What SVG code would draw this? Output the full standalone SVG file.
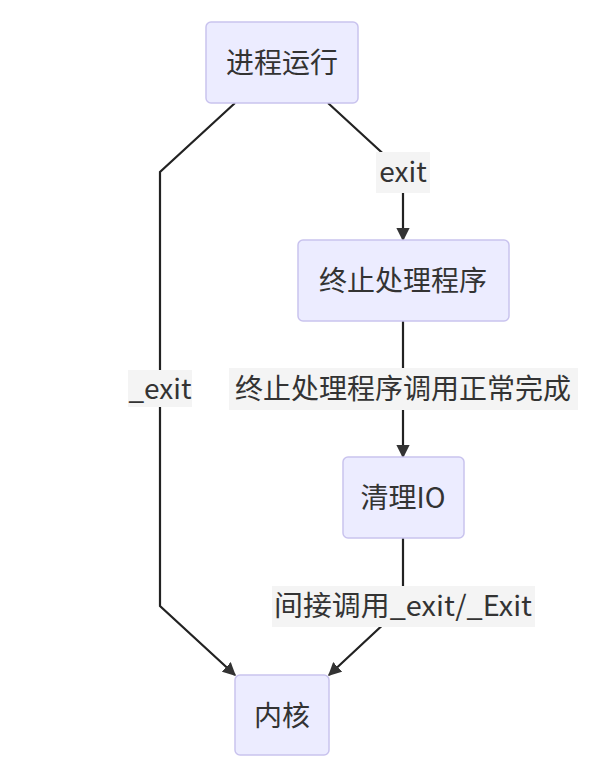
<svg xmlns="http://www.w3.org/2000/svg" width="601" height="778" viewBox="0 0 601 778">
<style>
.n rect{fill:#ECECFF;stroke:#C9C3EE;stroke-width:1.5}
text{font-family:"Noto Sans CJK SC","Noto Sans",sans-serif;font-size:28px;fill:#333;text-anchor:middle;dominant-baseline:central}
.e path{fill:none;stroke:#222;stroke-width:2.2}
.lb{fill:#F4F4F4}
</style>
<defs><marker id="a" viewBox="0 0 10 10" refX="9" refY="5" markerWidth="6" markerHeight="6" orient="auto"><path d="M0,0L10,5L0,10z" fill="#333"/></marker></defs>
<rect width="601" height="778" fill="#fff"/>
<g class="e">
<path d="M235,103L160,172V606L235,675" marker-end="url(#a)"/>
<path d="M328,103L403,172V240" marker-end="url(#a)"/>
<path d="M403,321V457" marker-end="url(#a)"/>
<path d="M403,538V606L329,675" marker-end="url(#a)"/>
<rect class="lb" x="128" y="370" width="64" height="37"/><text x="160" y="387">_exit</text>
<rect class="lb" x="376" y="152" width="54" height="41"/><text x="403" y="170">exit</text>
<rect class="lb" x="229" y="368" width="349" height="42"/><text x="403" y="387">终止处理程序调用正常完成</text>
<rect class="lb" x="272" y="586" width="263" height="41"/><text x="403" y="604" textLength="258" lengthAdjust="spacingAndGlyphs">间接调用_exit/_Exit</text>
</g>
<g id="n1" class="n"><rect x="206" y="22" width="152" height="81" rx="5"/><text x="282" y="61">进程运行</text></g>
<g id="n2" class="n"><rect x="298" y="240" width="211" height="81" rx="5"/><text x="403" y="279">终止处理程序</text></g>
<g id="n3" class="n"><rect x="343" y="457" width="121" height="81" rx="5"/><text x="403" y="496">清理IO</text></g>
<g id="n4" class="n"><rect x="235" y="675" width="94" height="80" rx="5"/><text x="282" y="714">内核</text></g>
</svg>
